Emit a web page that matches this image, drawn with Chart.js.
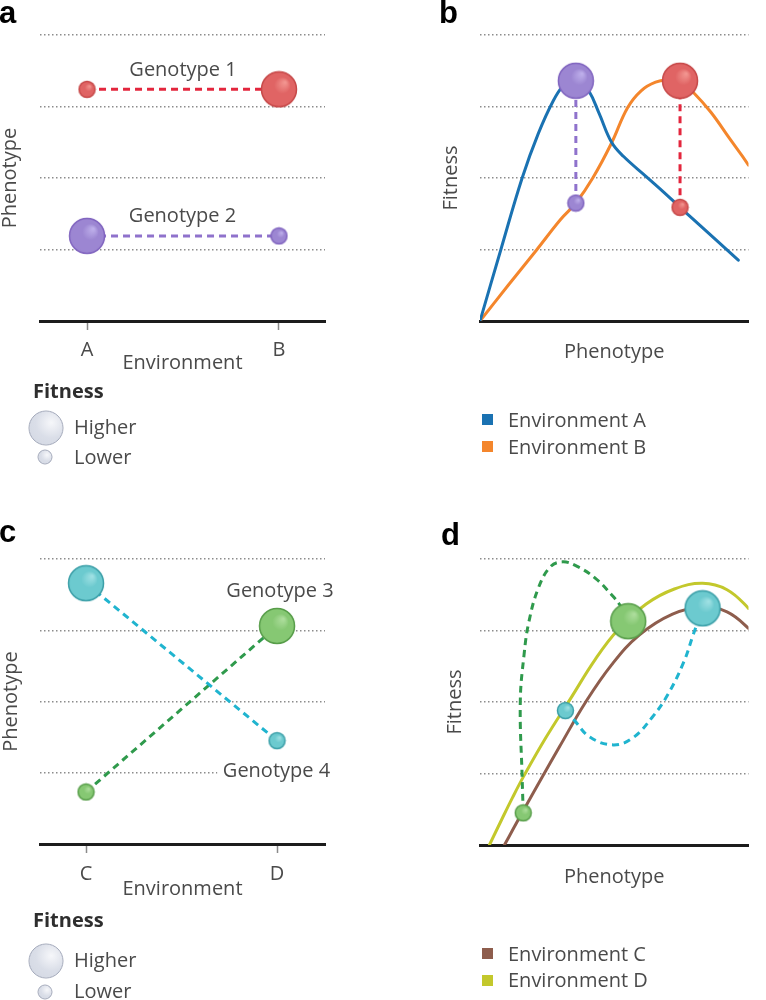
<!DOCTYPE html>
<html>
<head>
<meta charset="utf-8">
<script src="https://cdn.jsdelivr.net/npm/chart.js@4.4.1/dist/chart.umd.min.js"></script>
<style>
html,body{margin:0;padding:0;background:#fff;}
#fig{position:relative;width:766px;height:1000px;overflow:hidden;background:#fff;font-family:'Open Sans',sans-serif;color:#4a4a4a;}
#fig canvas{position:absolute;}
.t{position:absolute;font-size:20px;line-height:1;white-space:nowrap;}
.c{transform:translate(-50%,-50%);}
.l{transform:translateY(-50%);}
.b{font-weight:700;color:#2e2e2e;}
.letter{position:absolute;font-family:'Liberation Sans',Arial,sans-serif;font-weight:700;font-size:31px;line-height:normal;color:#000;}
.sq{position:absolute;width:11px;height:11px;}
.ball{position:absolute;border-radius:50%;box-sizing:border-box;border:1.5px solid #a3a9ba;background:radial-gradient(circle at 66% 34%, #f6f7fa 0%, #dadee8 50%, #d2d7e2 100%);transform:translate(-50%,-50%);}
</style>
</head>
<body>
<div id="fig">
  <canvas id="ca" width="383" height="480" style="left:0;top:0"></canvas>
  <canvas id="cb" width="383" height="480" style="left:383px;top:0"></canvas>
  <canvas id="cc" width="383" height="500" style="left:0;top:500px"></canvas>
  <canvas id="cd" width="383" height="500" style="left:383px;top:500px"></canvas>

  <div class="letter" style="left:-1px;top:-5px">a</div>
  <div class="letter" style="left:439px;top:-5.5px">b</div>
  <div class="letter" style="left:-1px;top:514px">c</div>
  <div class="letter" style="left:441px;top:517px">d</div>

  <div class="t c" style="left:183px;top:69px">Genotype 1</div>
  <div class="t c" style="left:182.5px;top:215px">Genotype 2</div>
  <div class="t c" style="left:280px;top:590px">Genotype 3</div>
  <div class="t c" style="left:276.5px;top:769.5px;background:#fff;padding:3px 6px">Genotype 4</div>

  <div class="t l b" style="left:33px;top:391px">Fitness</div>
  <div class="ball" style="left:45.5px;top:427.5px;width:35px;height:35px"></div>
  <div class="ball" style="left:45px;top:456.5px;width:15px;height:15px"></div>
  <div class="t l" style="left:74px;top:427px">Higher</div>
  <div class="t l" style="left:74px;top:456.5px">Lower</div>

  <div class="t l b" style="left:33px;top:920px">Fitness</div>
  <div class="ball" style="left:45.5px;top:960.5px;width:35px;height:35px"></div>
  <div class="ball" style="left:45px;top:992px;width:15px;height:15px"></div>
  <div class="t l" style="left:74px;top:960px">Higher</div>
  <div class="t l" style="left:74px;top:991px">Lower</div>

  <div class="sq" style="left:482px;top:414px;background:#1a72b2"></div>
  <div class="t l" style="left:508px;top:419.5px">Environment A</div>
  <div class="sq" style="left:482px;top:441px;background:#f4862c"></div>
  <div class="t l" style="left:508px;top:447px">Environment B</div>

  <div class="sq" style="left:482px;top:948px;background:#8e5d4d"></div>
  <div class="t l" style="left:508px;top:954px">Environment C</div>
  <div class="sq" style="left:482px;top:975px;background:#c3c82c"></div>
  <div class="t l" style="left:508px;top:980px">Environment D</div>
</div>

<script>
// ---------------- DATA ----------------
// Panels a and c: phenotype of each genotype in two environments, with fitness rank
const envsAB = ['A', 'B'];
const genotype1Phenotype = [3.24, 3.24];
const genotype1Fitness = ['lower', 'higher'];
const genotype2Phenotype = [1.19, 1.19];
const genotype2Fitness = ['higher', 'lower'];

const envsCD = ['C', 'D'];
const genotype3Phenotype = [0.73, 3.06];
const genotype3Fitness = ['lower', 'higher'];
const genotype4Phenotype = [3.66, 1.45];
const genotype4Fitness = ['higher', 'lower'];

const gridValues = [0, 1, 2, 3, 4];

// Panel b: fitness landscapes (phenotype -> fitness)
const envAPhenotype = [0, 0.77, 1.57, 2.17, 2.73, 3.12, 3.57, 4.05, 4.44, 4.90, 5.35, 6.19, 6.85, 7.45, 8.10, 8.80, 9.62];
const envAFitness   = [0, 0.99, 2.00, 2.62, 3.08, 3.30, 3.42, 3.22, 2.90, 2.50, 2.30, 2.02, 1.80, 1.59, 1.37, 1.13, 0.85];
const envBPhenotype = [0, 1.05, 2.10, 3.00, 3.57, 4.20, 4.90, 5.49, 6.00, 6.54, 7.00, 7.45, 7.94, 8.60, 9.30, 10.0, 10.66];
const envBFitness   = [0, 0.50, 0.99, 1.42, 1.65, 2.00, 2.49, 2.98, 3.22, 3.34, 3.37, 3.36, 3.20, 2.92, 2.55, 2.18, 1.76];
// Genotypes in panel b: fitness in [environment A, environment B]
const genotype1PhenoB = 7.45;
const genotype1FitnessB = [1.59, 3.36];
const genotype2PhenoB = 3.57;
const genotype2FitnessB = [3.36, 1.65];

// Panel d: fitness landscapes
const envCPhenotype = [0.91, 1.26, 1.61, 2.27, 2.97, 3.92, 4.90, 5.94, 7.17, 8.29, 9.20, 10.0, 10.84];
const envCFitness   = [0, 0.24, 0.48, 0.92, 1.38, 1.99, 2.52, 2.94, 3.23, 3.33, 3.26, 3.03, 2.70];
const envDPhenotype = [0.35, 0.80, 1.22, 1.64, 2.45, 3.36, 4.30, 5.14, 6.19, 7.24, 8.29, 9.20, 10.0, 10.84];
const envDFitness   = [0, 0.35, 0.67, 0.97, 1.50, 2.04, 2.60, 3.01, 3.37, 3.58, 3.66, 3.57, 3.31, 2.94];
// Genotype paths between the two landscapes (start = lower fitness, end = higher fitness)
const genotype3PathX = [1.61, 1.57, 1.50, 1.64, 1.82, 2.17, 2.62, 3.08, 3.60, 4.30, 4.90, 5.24, 5.52];
const genotype3PathY = [0.45, 0.94, 2.00, 2.66, 3.12, 3.59, 3.89, 3.96, 3.90, 3.73, 3.50, 3.34, 3.13];
const genotype4PathX = [3.18, 3.50, 4.09, 4.97, 5.70, 6.40, 6.99, 7.59, 7.94, 8.29];
const genotype4PathY = [1.88, 1.75, 1.51, 1.40, 1.50, 1.78, 2.10, 2.56, 2.94, 3.31];
const pathEndFitness = ['lower', 'higher'];

// ---------------- STYLE ----------------
const R = { higher: 17.5, lower: 8 };
const COL = {
  red:    { fill: '#e06464', hi: '#f2948f', edge: '#c64848', line: '#e3263d' },
  purple: { fill: '#9c86d2', hi: '#bdaeea', edge: '#8064bf', line: '#8f72cc' },
  cyan:   { fill: '#6ccacf', hi: '#9ee0e3', edge: '#3a9ea7', line: '#20b4cf' },
  green:  { fill: '#86c873', hi: '#acdd9b', edge: '#579d49', line: '#2f9a4c' }
};
const ENV_COL = { A: '#1a72b2', B: '#f4862c', C: '#8e5d4d', D: '#c3c82c' };

Chart.defaults.font.family = "'Open Sans', sans-serif";
Chart.defaults.font.size = 20;
Chart.defaults.color = '#4a4a4a';

function sphere(r, col) {
  const s = Math.ceil(r * 2 + 3);
  const c = document.createElement('canvas');
  c.width = s; c.height = s;
  const g = c.getContext('2d');
  const m = s / 2;
  const grad = g.createRadialGradient(m + r * 0.35, m - r * 0.4, r * 0.05, m, m, r);
  grad.addColorStop(0, col.hi);
  grad.addColorStop(0.45, col.fill);
  grad.addColorStop(1, col.fill);
  g.beginPath(); g.arc(m, m, r, 0, Math.PI * 2);
  g.fillStyle = grad; g.fill();
  g.lineWidth = 1.5; g.strokeStyle = col.edge; g.stroke();
  return c;
}

// dashed genotype line; only end points carry a sphere sized by fitness
function genotypeDataset(xs, ys, endFitness, col, tension) {
  const n = xs.length;
  const sprites = endFitness.map(f => sphere(R[f], col));
  const rad = endFitness.map(f => R[f]);
  const endIdx = i => (i === 0 ? 0 : (i === n - 1 ? 1 : -1));
  return {
    data: xs.map((x, i) => ({ x: x, y: ys[i] })),
    borderColor: col.line,
    borderWidth: 3,
    borderDash: [7, 5],
    tension: tension,
    clip: false,
    pointStyle: ctx => { const k = endIdx(ctx.dataIndex ?? 0); return k < 0 ? 'circle' : sprites[k]; },
    pointRadius: ctx => { const k = endIdx(ctx.dataIndex ?? 0); return k < 0 ? 0 : rad[k]; },
    pointBorderWidth: 0
  };
}

function curveDataset(xs, ys, color) {
  return {
    data: xs.map((x, i) => ({ x: x, y: ys[i] })),
    borderColor: color,
    borderWidth: 3,
    pointRadius: 0,
    tension: 0.4,
    borderCapStyle: 'round'
  };
}

function yScale(width, title, titlePadTop) {
  return {
    type: 'linear', min: 0, max: 4,
    afterBuildTicks: s => { s.ticks = gridValues.map(v => ({ value: v })); },
    afterFit: s => { s.width = width; },
    ticks: { display: false },
    grid: {
      drawTicks: false,
      lineWidth: 1.5,
      color: c => (c.tick && c.tick.value === 0) ? 'rgba(0,0,0,0)' : '#8c8c8c'
    },
    border: { display: false, dash: [1.5, 2.5] },
    title: { display: true, text: title, padding: { top: titlePadTop, bottom: 0 } }
  };
}

function envXScale(labels, min, max, height, tickPad, titlePadBottom) {
  return {
    type: 'linear', min: min, max: max,
    afterBuildTicks: s => { s.ticks = labels.map((_, i) => ({ value: i })); },
    afterFit: s => { s.height = height; },
    ticks: { callback: v => labels[v], padding: tickPad, maxRotation: 0, autoSkip: false, color: '#4a4a4a' },
    grid: { drawOnChartArea: false, drawTicks: true, tickLength: 9, tickColor: '#8a8a8a', tickWidth: 1.5 },
    border: { display: true, color: '#1c1c1c', width: 3 },
    title: { display: true, text: 'Environment', padding: { top: 0, bottom: titlePadBottom } }
  };
}

function phenoXScale(height, titlePadBottom) {
  return {
    type: 'linear', min: 0, max: 10,
    afterFit: s => { s.height = height; },
    ticks: { display: false },
    grid: { display: false, drawTicks: false },
    border: { display: true, color: '#1c1c1c', width: 3 },
    title: { display: true, text: 'Phenotype', padding: { top: 0, bottom: titlePadBottom } }
  };
}

const common = {
  responsive: false,
  animation: false,
  events: [],
  plugins: { legend: { display: false }, tooltip: { enabled: false } }
};

// ---------- Panel a ----------
new Chart(document.getElementById('ca'), {
  type: 'line',
  data: { datasets: [
    genotypeDataset([0, 1], genotype1Phenotype, genotype1Fitness, COL.red, 0),
    genotypeDataset([0, 1], genotype2Phenotype, genotype2Fitness, COL.purple, 0)
  ] },
  options: Object.assign({}, common, {
    layout: { padding: { left: 0, top: 35, right: 58, bottom: 0 } },
    scales: {
      x: envXScale(envsAB, -0.245, 1.24, 159, 8.2, 105),
      y: yScale(40, 'Phenotype', -1.6)
    }
  })
});

// ---------- Panel b ----------
new Chart(document.getElementById('cb'), {
  type: 'line',
  data: { datasets: [
    genotypeDataset([genotype2PhenoB, genotype2PhenoB], [genotype2FitnessB[1], genotype2FitnessB[0]], pathEndFitness, COL.purple, 0),
    genotypeDataset([genotype1PhenoB, genotype1PhenoB], [genotype1FitnessB[0], genotype1FitnessB[1]], pathEndFitness, COL.red, 0),
    curveDataset(envAPhenotype, envAFitness, ENV_COL.A),
    curveDataset(envBPhenotype, envBFitness, ENV_COL.B)
  ] },
  options: Object.assign({}, common, {
    layout: { padding: { left: 0, top: 35, right: 0, bottom: 0 } },
    scales: {
      x: phenoXScale(159, 116),
      y: yScale(97, 'Fitness', 56)
    }
  })
});

// ---------- Panel c ----------
new Chart(document.getElementById('cc'), {
  type: 'line',
  data: { datasets: [
    genotypeDataset([0, 1], genotype4Phenotype, genotype4Fitness, COL.cyan, 0),
    genotypeDataset([0, 1], genotype3Phenotype, genotype3Fitness, COL.green, 0)
  ] },
  options: Object.assign({}, common, {
    layout: { padding: { left: 0, top: 59, right: 58, bottom: 0 } },
    scales: {
      x: envXScale(envsCD, -0.241, 1.251, 156, 8.9, 99),
      y: yScale(40, 'Phenotype', -0.3)
    }
  })
});

// ---------- Panel d ----------
new Chart(document.getElementById('cd'), {
  type: 'line',
  data: { datasets: [
    genotypeDataset(genotype3PathX, genotype3PathY, pathEndFitness, COL.green, 0.4),
    genotypeDataset(genotype4PathX, genotype4PathY, pathEndFitness, COL.cyan, 0.4),
    curveDataset(envCPhenotype, envCFitness, ENV_COL.C),
    curveDataset(envDPhenotype, envDFitness, ENV_COL.D)
  ] },
  options: Object.assign({}, common, {
    layout: { padding: { left: 0, top: 59, right: 0, bottom: 0 } },
    scales: {
      x: phenoXScale(155, 111),
      y: yScale(97, 'Fitness', 60)
    }
  })
});
</script>
</body>
</html>
